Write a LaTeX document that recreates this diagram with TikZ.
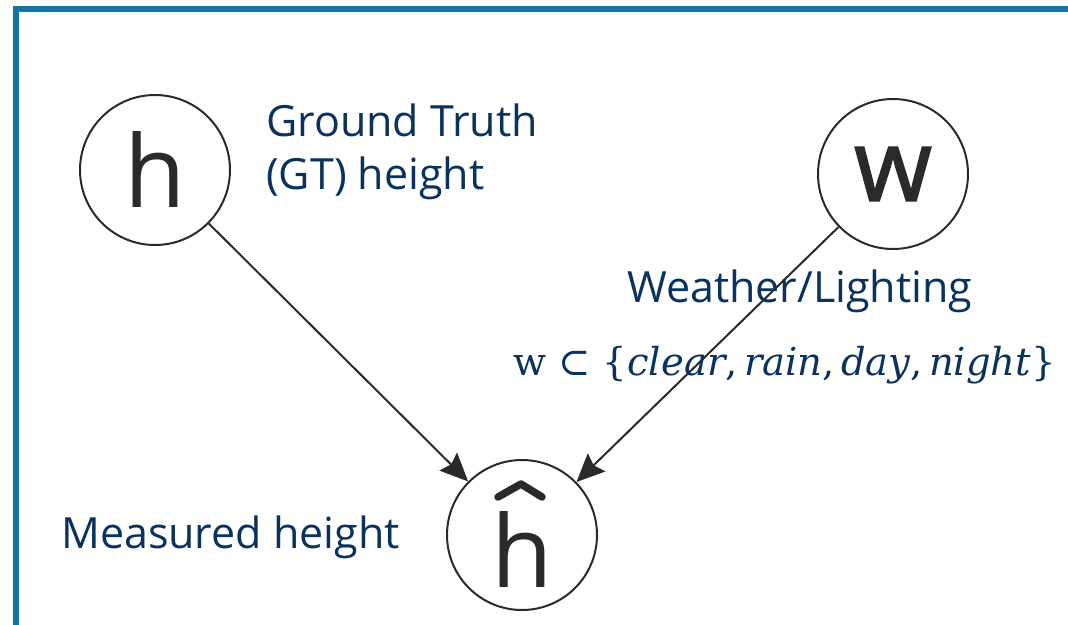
\documentclass[tikz,border=0pt]{standalone}
\usepackage{fontspec}
\setmainfont{Open Sans}
\newfontfamily\semifont[FakeBold=1.6]{Open Sans}
\newfontfamily\serifmath{DejaVu Serif}
\usetikzlibrary{arrows.meta}
\definecolor{frameblue}{RGB}{17,116,166}
\definecolor{navy}{RGB}{10,50,95}
\definecolor{ink}{RGB}{43,42,41}
\begin{document}
\begin{tikzpicture}[x=1pt,y=-1pt,
  var/.style={circle,draw=ink,line width=2pt,minimum size=150pt,inner sep=0pt,text=ink,font=\fontsize{100}{100}\selectfont},
  lbl/.style={text=navy,font=\fontsize{43}{53}\selectfont,inner sep=0pt},
  hatline/.style={draw=ink,line width=7.5pt,line cap=round,line join=round},
  edge/.style={draw=ink,line width=2pt,-{Stealth[length=28pt,width=25pt,inset=4pt]}}]
\useasboundingbox (0,0) rectangle (1068,624);
\begin{scope}
  \clip (0,0) rectangle (1068,624);
  \draw[frameblue,line width=6pt] (16,9) rectangle (1120,700);
\end{scope}
\node[var] (h) at (155,170) {h};
\node[var,font=\fontsize{100}{100}\semifont] (w) at (893,174) {w};
\node[var] (hh) at (522,535) {\raisebox{-15pt}[\height][\depth]{h}};
\draw[hatline] ([shift={(-24,-38)}]hh.center) -- ([shift={(-1,-51)}]hh.center) -- ([shift={(20,-38)}]hh.center);
\draw[edge] (h) -- (hh);
\draw[edge] (w) -- (hh);
\node[lbl,anchor=north west,align=left] (gt) at (266,104) {Ground Truth\\(GT) height};
\node[lbl,anchor=base west] (wl) at (627,302) {Weather/Lighting};
\node[lbl,anchor=base west] (ml) at (61,548) {Measured height};
\node[text=navy,anchor=base west,inner sep=0pt,font=\serifmath\fontsize{38.5}{38.5}\selectfont] (set) at (513,375)
  {w ⊂ \{\textit{clear},\,\textit{rain},\,\textit{day},\,\textit{night}\}};
\end{tikzpicture}
\end{document}
